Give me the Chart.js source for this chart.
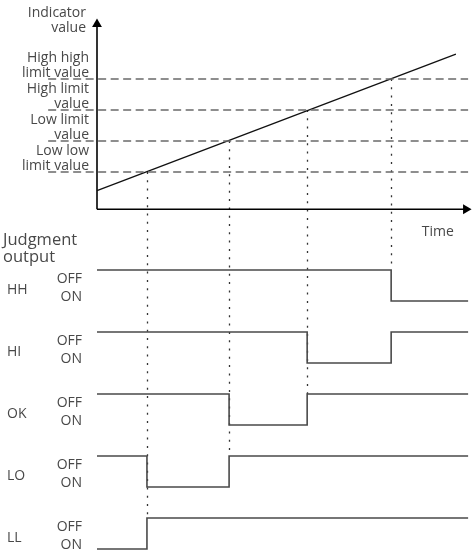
<!DOCTYPE html>
<html><head><meta charset="utf-8">
<script src="https://cdn.jsdelivr.net/npm/chart.js@4.4.1/dist/chart.umd.min.js"></script>
<style>html,body{margin:0;padding:0;background:#fff}#wrap{position:relative;width:473px;height:553px}</style>
</head><body><div id="wrap"><canvas id="c"></canvas></div>
<script>
// ---- data ----
const thresholdLabels = [['Low low', 'limit value'], ['Low limit', 'value'], ['High limit', 'value'], ['High high', 'limit value']];
const thresholds = [20, 30, 40, 50];
const axisValueMin = 8;
const axisValueTop = 67.7;
const axisTimeEnd = 99.7;
const rampTimes = [0, 97];
const rampValues = [14, 58];
const crossTimes = [13.5, 35.7, 56.8, 79.5];
const outputNames = ['HH', 'HI', 'OK', 'LO', 'LL'];
const stepTimes = [0, 13.5, 35.7, 56.8, 79.5, 100.3];
const OFF = 1, ON = 0;
const stateHH = [OFF, OFF, OFF, OFF, ON, ON];
const stateHI = [OFF, OFF, OFF, ON, OFF, OFF];
const stateOK = [OFF, OFF, ON, OFF, OFF, OFF];
const stateLO = [OFF, ON, OFF, OFF, OFF, OFF];
const stateLL = [ON, OFF, OFF, OFF, OFF, OFF];
const dottedEndRow = ['LL', 'LO', 'OK', 'HH'];
const dashStart = -13.2, dashEnd = 100.3;

// ---- layout helpers ----
function range(v0, p0, v1, p1, a, b) {
  const k = (v1 - v0) / (p1 - p0);
  const va = v0 + (a - p0) * k, vb = v0 + (b - p0) * k;
  return { min: Math.min(va, vb), max: Math.max(va, vb) };
}
const rowBase = name => (outputNames.length - 1 - outputNames.indexOf(name)) * 2;
const states = { HH: stateHH, HI: stateHI, OK: stateOK, LO: stateLO, LL: stateLL };

const TXT = '#484848';
const FONT = '"Open Sans", "DejaVu Sans", sans-serif';

const datasets = [];
thresholds.forEach(v => datasets.push({
  data: [{ x: dashStart, y: v }, { x: dashEnd, y: v }], yAxisID: 'y',
  borderColor: '#6a6a6a', borderWidth: 1.6, borderDash: [8, 4.5], pointRadius: 0
}));
datasets.push({
  data: rampTimes.map((t, i) => ({ x: t, y: rampValues[i] })), yAxisID: 'y',
  borderColor: '#111', borderWidth: 1.3, pointRadius: 0
});
datasets.push({
  data: [{ x: 0, y: axisValueMin }, { x: 0, y: axisValueTop }], yAxisID: 'y',
  borderColor: '#000', borderWidth: 1.6, pointRadius: [0, 5.7], pointStyle: 'triangle',
  pointRotation: 0, pointBackgroundColor: '#000', pointBorderWidth: 0
});
datasets.push({
  data: [{ x: 0, y: axisValueMin }, { x: axisTimeEnd, y: axisValueMin }], yAxisID: 'y',
  borderColor: '#000', borderWidth: 1.6, pointRadius: [0, 5.7], pointStyle: 'triangle',
  pointRotation: 90, pointBackgroundColor: '#000', pointBorderWidth: 0
});
outputNames.forEach(n => datasets.push({
  data: stepTimes.map((t, i) => ({ x: t, y: rowBase(n) + states[n][i] })), yAxisID: 's',
  borderColor: '#4a4a4a', borderWidth: 1.6, pointRadius: 0, stepped: 'before'
}));
datasets.forEach(d => { d.clip = false; });

const overlay = {
  id: 'overlay',
  beforeDatasetsDraw(chart) {
    const { ctx } = chart, xs = chart.scales.x, ys = chart.scales.y, ss = chart.scales.s;
    ctx.save();
    ctx.strokeStyle = '#333'; ctx.lineWidth = 1.3; ctx.setLineDash([2, 6.3]);
    crossTimes.forEach((t, i) => {
      const x = Math.round(xs.getPixelForValue(t)) + 0.5;
      ctx.beginPath();
      ctx.moveTo(x, ys.getPixelForValue(thresholds[i]));
      ctx.lineTo(x, ss.getPixelForValue(rowBase(dottedEndRow[i]) + OFF));
      ctx.stroke();
    });
    ctx.restore();
  },
  afterDraw(chart) {
    const { ctx } = chart, xs = chart.scales.x, ys = chart.scales.y, ss = chart.scales.s;
    const ax = xs.getPixelForValue(0), ay = ys.getPixelForValue(axisValueMin);
    ctx.save();
    ctx.fillStyle = TXT; ctx.textBaseline = 'alphabetic';
    ctx.font = '14px ' + FONT;
    ctx.textAlign = 'right';
    ctx.fillText('Indicator', ax - 11, 16.5);
    ctx.fillText('value', ax - 11, 31.5);
    thresholds.forEach((v, i) => {
      const py = ys.getPixelForValue(v);
      const rx = ax - 8;
      ctx.fillText(thresholdLabels[i][0], rx, py - 17);
      ctx.fillText(thresholdLabels[i][1], rx, py - 2);
    });
    ctx.textAlign = 'left';
    ctx.fillText('Time', xs.getPixelForValue(87.8), ay + 27);
    const hhOff = ss.getPixelForValue(rowBase('HH') + OFF);
    ctx.font = '16.5px ' + FONT;
    ctx.fillText('Judgment', 3, hhOff - 25);
    ctx.fillText('output', 3, hhOff - 8);
    ctx.font = '14px ' + FONT;
    outputNames.forEach(n => {
      const off = ss.getPixelForValue(rowBase(n) + OFF);
      ctx.textAlign = 'left';
      ctx.fillText(n, 7, off + 24);
      ctx.textAlign = 'right';
      ctx.fillText('OFF', 82, off + 13);
      ctx.fillText('ON', 82, off + 31);
    });
    ctx.restore();
  }
};

const chart = new Chart(document.getElementById('c'), {
  type: 'line',
  data: { datasets },
  options: {
    responsive: true, maintainAspectRatio: false, animation: false,
    layout: { padding: 0 },
    elements: { line: { tension: 0, fill: false } },
    scales: {
      x: { type: 'linear', display: false, min: -26, max: 102 },
      y: { type: 'linear', display: false, min: -103, max: 75 },
      s: { type: 'linear', display: false, min: 0, max: 18, position: 'left' }
    },
    plugins: { legend: { display: false }, tooltip: { enabled: false } },
    events: []
  },
  plugins: [overlay]
});

// fit the scales to the actual chart area so the anchors land on the right page pixels
function fitScales() {
  const ca = chart.chartArea;
  const xr = range(0, 97, 100, 467, ca.left, ca.right);
  const yr = range(8, 209.2, 50, 79, ca.top, ca.bottom);
  const sr = range(0, 549, 9, 270, ca.top, ca.bottom);
  const sc = chart.options.scales;
  sc.x.min = xr.min; sc.x.max = xr.max;
  sc.y.min = yr.min; sc.y.max = yr.max;
  sc.s.min = sr.min; sc.s.max = sr.max;
  chart.update('none');
}
fitScales();
</script></body></html>
